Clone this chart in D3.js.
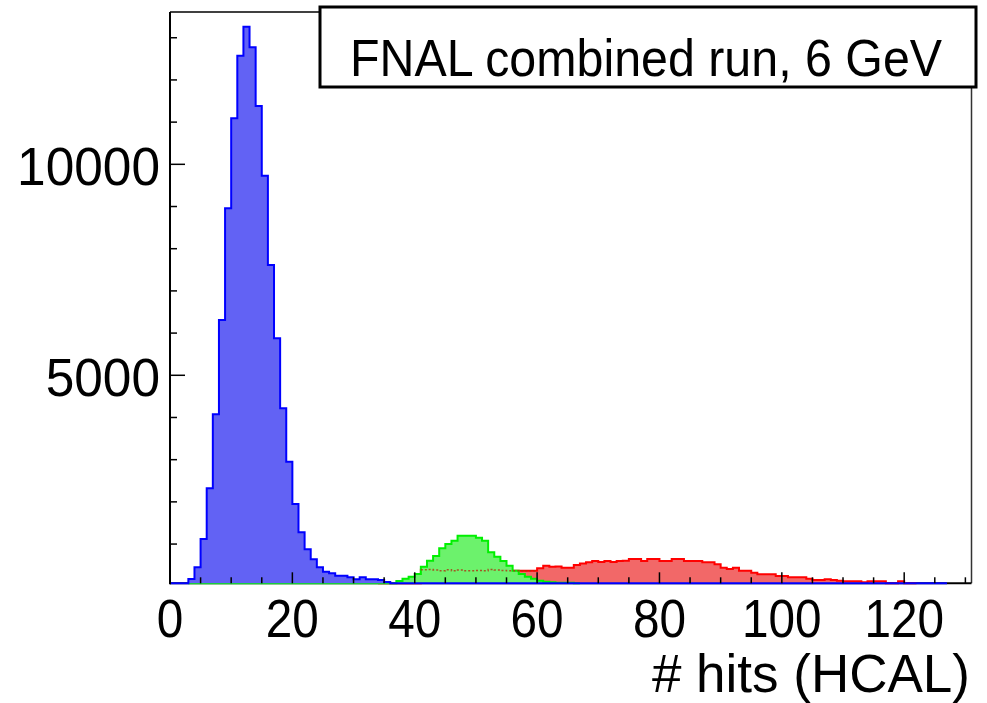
<!DOCTYPE html>
<html><head><meta charset="utf-8">
<script src="https://cdn.jsdelivr.net/npm/d3@7"></script>
<style>body{margin:0;background:#fff;overflow:hidden} svg{display:block}</style>
</head><body>
<script>
// ---- data (bin width 1, values are counts per bin) ----
const xDomain = [0, 131];
const yDomain = [70, 13610];
const xMajorTicks = [0, 20, 40, 60, 80, 100, 120];
const xMinorTicks = [5,10,15,25,30,35,45,50,55,65,70,75,85,90,95,105,110,115,125,130];
const yMajorTicks = [5000, 10000];
const yMinorTicks = [1000,2000,3000,4000,6000,7000,8000,9000,11000,12000,13000];
const xTitle = "# hits (HCAL)";
const title = "FNAL combined run, 6 GeV";

const blueStart = 0;
const blueValues = [0,0,0,173,450,1121,2322,4076,6310,8957,11090,12573,13260,12773,11382,9730,
  7614,5877,4218,2953,1950,1280,877,640,450,346,308,251,251,213,166,213,166,166,150,100,
  0,0,0,0,0,0,0,0,0,0,0,0,0,0,0,0,0,0,0,0,0,0,0,0,0,0,0,0,0,0,0,0,0,0,0,0,0,0,0,0,
  0,0,0,0,0,0,0,0,0,0,0,0,0,0,0,0,0,0,0,0,0,0,0,0,0,0,0,0,0,0,0,0,0,0,0,0,0,0,0,0,
  0,0,0,0,0,0,0,0,0,0,0];

const greenStart = 3;
const greenValues = [0,0,0,0,0,0,0,0,0,0,0,0,0,0,0,0,0,0,0,0,0,0,0,0,0,0,0,0,0,0,0,0,0,0,
  126,180,227,291,464,607,718,900,1002,1080,1199,1199,1199,1152,1080,805,701,600,488,370,
  291,227,180,133,109,95,85,85,85,0];

const redStart = 34;
const redValues = [0,0,0,0,0,0,0,
  390,395,385,370,390,365,385,370,370,375,370,400,385,375,370,370,370,370,370,426,
  488,464,470,441,441,505,540,568,600,576,600,576,600,607,647,647,600,647,647,600,
  600,647,647,600,600,600,568,568,521,441,410,441,370,370,322,284,284,284,244,244,
  213,213,213,180,150,150,166,150,133,118,118,118,95,118,118,118,0,0,118,0,0];

// ---- layout ----
const W = 987, H = 703;
const L = 170, R = 971.5, T = 12, B = 583.3;

const svg = d3.select("body").append("svg").attr("width", W).attr("height", H);
const x = d3.scaleLinear().domain(xDomain).range([L, R]);
const y = d3.scaleLinear().domain(yDomain).range([B, T]);

const defs = svg.append("defs");
defs.append("clipPath").attr("id","frame").append("rect")
  .attr("x", L).attr("y", T - 2).attr("width", R - L).attr("height", B - T + 4);

// frame
svg.append("line").attr("x1",L).attr("x2",R).attr("y1",T).attr("y2",T).attr("stroke","#000").attr("stroke-width",1.5);
svg.append("line").attr("x1",R).attr("x2",R).attr("y1",T).attr("y2",B).attr("stroke","#333").attr("stroke-width",1.5);
svg.append("line").attr("x1",L).attr("x2",R).attr("y1",B).attr("y2",B).attr("stroke","#000").attr("stroke-width",2);

const hg = svg.append("g").attr("clip-path","url(#frame)");

function histPoints(start, values) {
  const yv = v => y(Math.max(v, yDomain[0]));
  const pts = [];
  values.forEach((v, i) => {
    pts.push([x(start + i), yv(v)]);
    pts.push([x(start + i + 1), yv(v)]);
  });
  return pts;
}
const line = d3.line().x(d => d[0]).y(d => d[1]);
function drawHist(start, values, fill, stroke) {
  const pts = histPoints(start, values);
  const area = d3.area().x(d => d[0]).y0(y(yDomain[0])).y1(d => d[1]);
  hg.append("path").attr("d", area(pts)).attr("fill", fill);
  hg.append("path").attr("d", line(pts)).attr("fill","none").attr("stroke", stroke).attr("stroke-width", 2);
}
drawHist(redStart, redValues, "#f26868", "#ff0000");
drawHist(greenStart, greenValues, "#6cf26c", "#00f000");
// red outline showing through the green hatched fill
hg.append("path").attr("d", line(histPoints(redStart + 7, redValues.slice(7, 26))))
  .attr("fill","none").attr("stroke","#b03010").attr("stroke-width",1.5)
  .attr("stroke-dasharray","2,2").attr("opacity",0.8);
drawHist(blueStart, blueValues, "#6262f4", "#0000ff");

// axes ticks
const tk = svg.append("g").attr("stroke","#000").attr("stroke-width",1.5);
xMajorTicks.forEach(v => tk.append("line").attr("x1",x(v)).attr("x2",x(v)).attr("y1",B).attr("y2",B-11));
xMinorTicks.forEach(v => tk.append("line").attr("x1",x(v)).attr("x2",x(v)).attr("y1",B).attr("y2",B-6));
yMajorTicks.forEach(v => tk.append("line").attr("x1",L).attr("x2",L+15).attr("y1",y(v)).attr("y2",y(v)));
yMinorTicks.forEach(v => tk.append("line").attr("x1",L).attr("x2",L+7).attr("y1",y(v)).attr("y2",y(v)));
svg.append("line").attr("x1",L).attr("x2",L).attr("y1",T).attr("y2",B+1).attr("stroke","#000").attr("stroke-width",2);

const font = "'Liberation Sans', Arial, sans-serif";
// x tick labels
xMajorTicks.forEach(v => {
  svg.append("text").attr("transform", `translate(${x(v)},637) scale(0.9,1)`)
    .attr("text-anchor","middle").attr("font-family",font).attr("font-size",53).attr("fill","#000").text(v);
});
// y tick labels
yMajorTicks.forEach(v => {
  svg.append("text").attr("transform", `translate(160,${y(v)+21}) scale(0.97,1)`)
    .attr("text-anchor","end").attr("font-family",font).attr("font-size",53).attr("fill","#000").text(v);
});
// x title
svg.append("text").attr("transform","translate(970,692) scale(1.0,1)")
  .attr("text-anchor","end").attr("font-family",font).attr("font-size",53).attr("fill","#000").text(xTitle);

// title box
svg.append("rect").attr("x",320).attr("y",7).attr("width",656).attr("height",80)
  .attr("fill","#fff").attr("stroke","#000").attr("stroke-width",3);
svg.append("text").attr("transform","translate(646,76) scale(0.93,1)")
  .attr("text-anchor","middle").attr("font-family",font).attr("font-size",52).attr("fill","#000").text(title);
</script>
</body></html>
